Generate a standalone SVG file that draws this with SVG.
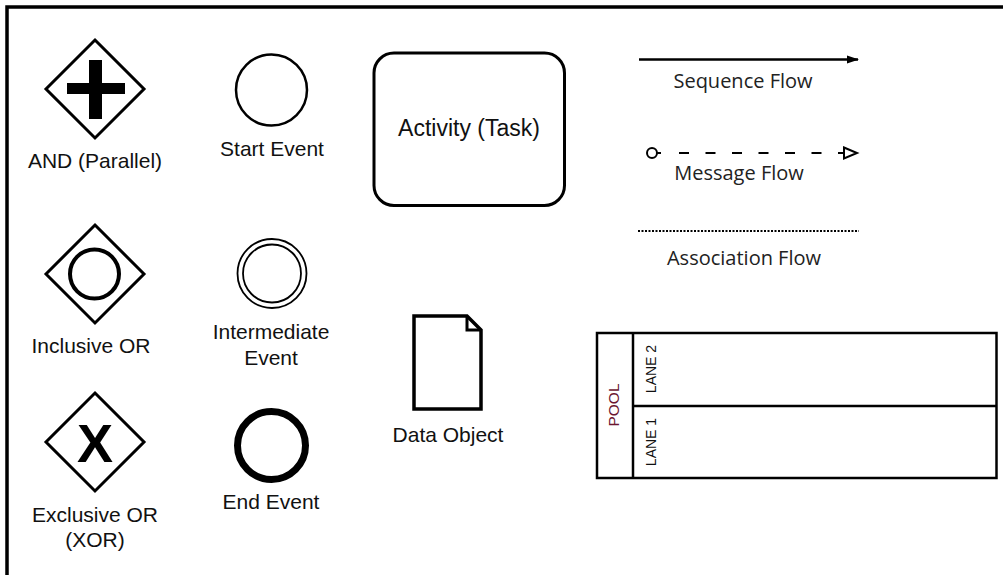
<svg xmlns="http://www.w3.org/2000/svg" width="1003" height="575" viewBox="0 0 1003 575">
<style>
.lbl{font-family:"Liberation Sans",Arial,sans-serif;font-size:21px;fill:#111;text-anchor:middle}
.flw{font-family:"Open Sans","Noto Sans",sans-serif;font-size:20px;fill:#222;text-anchor:middle}
.sh{fill:#fff;stroke:#000}
.ln{font-family:"Liberation Sans",Arial,sans-serif;font-size:14px;fill:#111;text-anchor:middle}
</style>
<defs>
<marker id="seqArrow" markerWidth="12" markerHeight="10" refX="11" refY="5" orient="auto" markerUnits="userSpaceOnUse">
<path d="M0,1 L12,5 L0,9 Z" fill="#000"/>
</marker>
</defs>
<rect width="1003" height="575" fill="#fff"/>
<path d="M7,575 L7,7 L1003,7" fill="none" stroke="#000" stroke-width="3.5"/>

<g id="and-gateway">
<polygon class="sh" points="95,40 144,89 95,138 46,89" stroke-width="3"/>
<rect x="67" y="83" width="58" height="11" fill="#000"/>
<rect x="89" y="60" width="13" height="59" fill="#000"/>
<text class="lbl" x="95" y="168">AND (Parallel)</text>
</g>

<g id="start-event">
<circle class="sh" cx="271.5" cy="90" r="35.5" stroke-width="2.5"/>
<text class="lbl" x="272" y="156">Start Event</text>
</g>

<g id="inclusive-or">
<polygon class="sh" points="95,225 144,274 95,323 46,274" stroke-width="3"/>
<circle class="sh" cx="94.5" cy="274" r="24.5" stroke-width="4"/>
<text class="lbl" x="91" y="353">Inclusive OR</text>
</g>

<g id="intermediate-event">
<circle class="sh" cx="272" cy="273.5" r="34.5" stroke-width="1.8"/>
<circle class="sh" cx="272" cy="273.5" r="29" stroke-width="1.8"/>
<text class="lbl" x="271" y="339">Intermediate</text>
<text class="lbl" x="271" y="365">Event</text>
</g>

<g id="exclusive-or">
<polygon class="sh" points="95,393 144,442 95,491 46,442" stroke-width="3"/>
<text x="95" y="462" font-family="Liberation Sans,Arial,sans-serif" font-weight="bold" font-size="54" text-anchor="middle" fill="#000">X</text>
<text class="lbl" x="95" y="522">Exclusive OR</text>
<text class="lbl" x="95" y="547">(XOR)</text>
</g>

<g id="end-event">
<circle class="sh" cx="271.5" cy="445.5" r="34" stroke-width="7"/>
<text class="lbl" x="271" y="509">End Event</text>
</g>

<g id="activity">
<rect class="sh" x="374" y="53" width="190.5" height="152.5" rx="20" ry="20" stroke-width="3"/>
<text class="lbl" x="469" y="136" style="font-size:23px">Activity (Task)</text>
</g>

<g id="data-object">
<path class="sh" d="M414,316 L467,316 L481,330 L481,409 L414,409 Z" stroke-width="3.5" stroke-linejoin="miter"/>
<path d="M467,316 L467,330 L481,330" fill="none" stroke="#000" stroke-width="3"/>
<text class="lbl" x="448" y="442">Data Object</text>
</g>

<g id="pool">
<rect class="sh" x="597" y="333" width="399.5" height="145" stroke-width="2.5"/>
<line x1="633" y1="333" x2="633" y2="478" stroke="#000" stroke-width="2.5"/>
<line x1="633" y1="406" x2="996.5" y2="406" stroke="#000" stroke-width="2.5"/>
<text x="0" y="0" transform="translate(619,405) rotate(-90)" font-family="Liberation Sans,Arial,sans-serif" font-size="15.5" fill="#6b1530" text-anchor="middle">POOL</text>
<text class="ln" transform="translate(656,369) rotate(-90)">LANE 2</text>
<text class="ln" transform="translate(656,442) rotate(-90)">LANE 1</text>
</g>

<g id="connectors">
<g id="sequence-flow">
<line x1="639" y1="59.5" x2="858" y2="59.5" stroke="#000" stroke-width="2.5" marker-end="url(#seqArrow)"/>
<text class="flw" x="743" y="88">Sequence Flow</text>
</g>
<g id="message-flow">
<circle cx="652" cy="153" r="5" fill="#fff" stroke="#000" stroke-width="2"/>
<line x1="657" y1="153" x2="661" y2="153" stroke="#000" stroke-width="2"/>
<line x1="679" y1="153" x2="835" y2="153" stroke="#000" stroke-width="2" stroke-dasharray="10,16.5"/>
<line x1="838" y1="153" x2="844" y2="153" stroke="#000" stroke-width="2"/>
<path d="M844,147.5 L857,153 L844,158.5 Z" fill="#fff" stroke="#000" stroke-width="2" stroke-linejoin="miter"/>
<text class="flw" x="739" y="180">Message Flow</text>
</g>
<g id="association-flow">
<line x1="638" y1="231" x2="859" y2="231" stroke="#000" stroke-width="2" stroke-dasharray="2,1.5"/>
<text class="flw" x="744" y="265">Association Flow</text>
</g>
</g>
</svg>
